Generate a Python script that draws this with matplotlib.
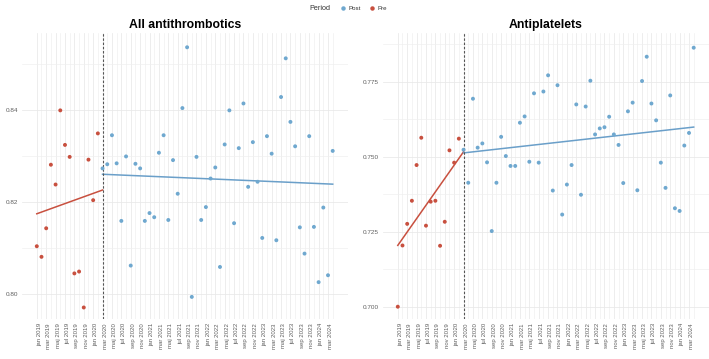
import numpy as np
import matplotlib
matplotlib.use('Agg')
import matplotlib.pyplot as plt
from matplotlib.lines import Line2D
from matplotlib.ticker import FixedLocator, FormatStrFormatter

plt.rcParams['font.family'] = ['Liberation Sans', 'DejaVu Sans']

# ---------------- data ----------------
n_pre = 14          # jan 2019 - feb 2020
n_months = 64       # jan 2019 - apr 2024

tick_labels = ['jan 2019', 'mar 2019', 'maj 2019', 'jul 2019', 'sep 2019', 'nov 2019',
               'jan 2020', 'mar 2020', 'maj 2020', 'jul 2020', 'sep 2020', 'nov 2020',
               'jan 2021', 'mar 2021', 'maj 2021', 'jul 2021', 'sep 2021', 'nov 2021',
               'jan 2022', 'mar 2022', 'maj 2022', 'jul 2022', 'sep 2022', 'nov 2022',
               'jan 2023', 'mar 2023', 'maj 2023', 'jul 2023', 'sep 2023', 'nov 2023',
               'jan 2024', 'mar 2024']

anti_pre = [0.8104, 0.8081, 0.8143, 0.8281, 0.8238, 0.8399, 0.8324, 0.8298,
            0.8045, 0.8049, 0.7971, 0.8292, 0.8204, 0.8349]
anti_post = [0.8273, 0.8282, 0.8345, 0.8284, 0.8159, 0.8299, 0.8062, 0.8283,
             0.8273, 0.8159, 0.8176, 0.8167, 0.8307, 0.8345, 0.8161, 0.8291,
             0.8218, 0.8404, 0.8536, 0.7994, 0.8298, 0.8161, 0.8189, 0.8251,
             0.8275, 0.8059, 0.8325, 0.8399, 0.8154, 0.8317, 0.8414, 0.8233,
             0.8330, 0.8244, 0.8122, 0.8343, 0.8305, 0.8117, 0.8428, 0.8512,
             0.8374, 0.8321, 0.8145, 0.8088, 0.8343, 0.8146, 0.8026, 0.8188,
             0.8041, 0.8311]

plat_pre = [0.7000, 0.7204, 0.7276, 0.7353, 0.7472, 0.7563, 0.7270, 0.7350,
            0.7353, 0.7203, 0.7283, 0.7521, 0.7480, 0.7560]
plat_post = [0.7523, 0.7413, 0.7693, 0.7530, 0.7544, 0.7481, 0.7252, 0.7413,
             0.7566, 0.7502, 0.7469, 0.7469, 0.7613, 0.7634, 0.7483, 0.7711,
             0.7480, 0.7717, 0.7771, 0.7387, 0.7738, 0.7307, 0.7407, 0.7472,
             0.7674, 0.7373, 0.7667, 0.7753, 0.7574, 0.7594, 0.7598, 0.7633,
             0.7574, 0.7539, 0.7412, 0.7651, 0.7680, 0.7388, 0.7752, 0.7833,
             0.7677, 0.7621, 0.7480, 0.7396, 0.7704, 0.7328, 0.7319, 0.7537,
             0.7579, 0.7863]

titles = ['All antithrombotics', 'Antiplatelets']
y_major = [[0.80, 0.82, 0.84], [0.700, 0.725, 0.750, 0.775]]
y_minor = [[0.81, 0.83, 0.85], [0.7125, 0.7375, 0.7625, 0.7875]]
y_fmt = ['%.2f', '%.3f']
y_lims = [(0.7946, 0.8567), (0.6959, 0.7912)]

col_post = '#6fa8cf'
col_pre = '#c8503f'
line_post = '#6a9fc9'
line_pre = '#c8503f'

# ---------------- figure ----------------
fig = plt.figure(figsize=(7.09, 3.59), dpi=100)
ax_rects = [[22 / 709, 1 - 319 / 359, (347.5 - 22) / 709, (319 - 33) / 359],
            [383 / 709, 1 - 319 / 359, (708.5 - 383) / 709, (319 - 33) / 359]]

series = [(anti_pre, anti_post), (plat_pre, plat_post)]
x_pre = np.arange(n_pre)
x_post = np.arange(n_pre, n_months)

for i, (pre, post) in enumerate(series):
    ax = fig.add_axes(ax_rects[i])
    ax.set_xlim(-0.05 * (n_months - 1), (n_months - 1) * 1.05)
    ax.set_ylim(*y_lims[i])
    for s in ax.spines.values():
        s.set_visible(False)
    ax.xaxis.set_major_locator(FixedLocator(np.arange(0, n_months - 1, 2)))
    ax.xaxis.set_minor_locator(FixedLocator(np.arange(1, n_months, 2)))
    ax.set_xticklabels(tick_labels, rotation=90, ha='left', va='top',
                       fontsize=4.3, color='#5f5f5f')
    ax.yaxis.set_major_locator(FixedLocator(y_major[i]))
    ax.yaxis.set_minor_locator(FixedLocator(y_minor[i]))
    ax.yaxis.set_major_formatter(FormatStrFormatter(y_fmt[i]))
    ax.tick_params(axis='both', which='both', length=0)
    ax.tick_params(axis='x', pad=3)
    ax.tick_params(axis='y', pad=3, labelsize=4.6, labelcolor='#5f5f5f')
    ax.grid(True, which='major', color='#e8e8e8', lw=0.55)
    ax.grid(True, which='minor', color='#efefef', lw=0.45)
    ax.set_axisbelow(True)

    # trend lines fitted from the data
    b_pre = np.polyfit(x_pre, pre, 1)
    xs_pre = np.array([0, n_pre])
    ax.plot(xs_pre, np.polyval(b_pre, xs_pre), color=line_pre, lw=1.1, zorder=2)
    b_post = np.polyfit(x_post, post, 1)
    xs_post = np.array([n_pre, n_months - 1])
    ax.plot(xs_post, np.polyval(b_post, xs_post), color=line_post, lw=1.1, zorder=2)

    ax.scatter(x_pre, pre, s=8, color=col_pre, edgecolors='none', zorder=3)
    ax.scatter(x_post, post, s=8, color=col_post, edgecolors='none', zorder=3)

    ax.axvline(n_pre, color='#555555', lw=0.8, ls=(0, (2.2, 1.6)), zorder=2.5)
    ax.set_title(titles[i], fontsize=8.8, fontweight='bold', pad=3.5)

# legend
fig.text(320 / 709, 1 - 8 / 359, 'Period', fontsize=5.2, ha='center', va='center',
         color='#333333')
handles = [Line2D([], [], ls='none', marker='o', ms=2.2, color=col_post),
           Line2D([], [], ls='none', marker='o', ms=2.2, color=col_pre)]
fig.legend(handles, ['Post', 'Pre'], ncol=2, frameon=False, fontsize=4.4,
           loc='center left', bbox_to_anchor=(336 / 709, 1 - 8 / 359),
           handlelength=1.2, handletextpad=0.3, columnspacing=1.2,
           borderpad=0, labelcolor='#333333')

fig.savefig('out.png', dpi=100, facecolor='white')
